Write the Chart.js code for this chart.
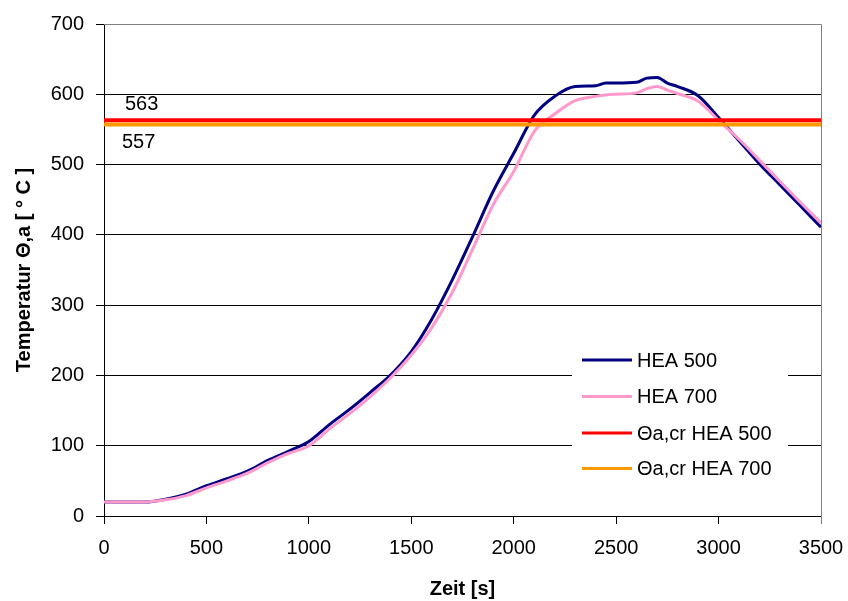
<!DOCTYPE html>
<html>
<head>
<meta charset="utf-8">
<script src="https://cdn.jsdelivr.net/npm/chart.js@4/dist/chart.umd.min.js"></script>
<style>
  body { margin: 0; background: #fff; }
  #chart { display: block; }
</style>
</head>
<body>
<canvas id="chart" width="848" height="601"></canvas>
<script>
// time axis (s) and steel temperatures
var zeit = [0, 100, 200, 300, 400, 500, 600, 700, 800, 900,
            1000, 1100, 1200, 1300, 1400, 1500, 1600, 1700, 1800, 1900,
            2000, 2100, 2200, 2300, 2400, 2450, 2500, 2600, 2650, 2700, 2750, 2800, 2900,
            3000, 3100, 3200, 3300, 3400, 3500];
var hea500 = [20, 20, 20, 24, 31, 43, 53, 64, 79, 92,
              106, 130, 152, 176, 201, 234, 280, 336, 398, 462,
              516, 570, 597, 611, 612, 616, 616, 617, 623, 624, 616, 611, 598,
              567, 534, 501, 471, 441, 411];
var hea700 = [20, 20, 20, 23, 29, 40, 50, 61, 76, 89,
              100, 124, 146, 170, 197, 229, 268, 318, 380, 443,
              490, 547, 572, 591, 597, 599, 600, 602, 608, 611, 606, 601, 590,
              563, 536, 506, 476, 446, 417];
// critical temperatures
var critLabels = ['Θa,cr HEA 500', 'Θa,cr HEA 700'];
var critValues = [563, 557];
var seriesLabels = ['HEA 500', 'HEA 700'];
var xTicks = [0, 3500];
var yTicks = [0, 700];

function toPoints(xs, ys) {
    return xs.map(function (x, i) { return { x: x, y: ys[i] }; });
}
function flatLine(v) {
    return [{ x: xTicks[0], y: v }, { x: xTicks[1], y: v }];
}

Chart.defaults.font.family = 'Arial, "Liberation Sans", sans-serif';
Chart.defaults.color = '#000';

// gray plot border, value labels for the critical lines and the boxed legend
var extras = {
    id: 'extras',
    beforeDatasetsDraw: function (chart) {
        var a = chart.chartArea, ctx = chart.ctx;
        ctx.save();
        ctx.strokeStyle = '#808080';
        ctx.lineWidth = 1;
        ctx.beginPath();
        ctx.moveTo(a.left, a.top + 0.5);
        ctx.lineTo(a.right + 0.5, a.top + 0.5);
        ctx.lineTo(a.right + 0.5, a.bottom + 8);
        ctx.stroke();
        ctx.restore();
    },
    afterDatasetsDraw: function (chart) {
        var ctx = chart.ctx, ys = chart.scales.y, xs = chart.scales.x;
        ctx.save();
        ctx.font = '20px Arial, "Liberation Sans", sans-serif';
        ctx.fillStyle = '#000';
        ctx.textBaseline = 'middle';
        ctx.textAlign = 'left';
        ctx.fillText(String(critValues[0]), xs.getPixelForValue(0) + 21, ys.getPixelForValue(critValues[0]) - 16);
        ctx.fillText(String(critValues[1]), xs.getPixelForValue(0) + 18, ys.getPixelForValue(critValues[1]) + 18);

        // legend
        var bx = 572, by = 342, bw = 216, bh = 146;
        ctx.fillStyle = '#fff';
        ctx.fillRect(bx, by, bw, bh);
        var rowY = [360, 396.5, 433, 468.5];
        chart.data.datasets.forEach(function (ds, i) {
            ctx.strokeStyle = ds.borderColor;
            ctx.lineWidth = 3;
            ctx.beginPath();
            ctx.moveTo(582, rowY[i]);
            ctx.lineTo(632, rowY[i]);
            ctx.stroke();
            ctx.fillStyle = '#000';
            ctx.fillText(ds.label, 637, rowY[i] + 1);
        });
        ctx.restore();
    }
};

var ctx = document.getElementById('chart').getContext('2d');
var chart = new Chart(ctx, {
    type: 'line',
    data: {
        datasets: [
            { label: seriesLabels[0], data: toPoints(zeit, hea500), borderColor: '#000080', borderWidth: 3, order: 3 },
            { label: seriesLabels[1], data: toPoints(zeit, hea700), borderColor: '#FF99CC', borderWidth: 3, order: 2 },
            { label: critLabels[0], data: flatLine(critValues[0]), borderColor: '#FF0000', borderWidth: 4, order: 1 },
            { label: critLabels[1], data: flatLine(critValues[1]), borderColor: '#FF9900', borderWidth: 4, order: 0 }
        ]
    },
    options: {
        responsive: false,
        animation: false,
        layout: { padding: { top: 22, right: 27, left: 0, bottom: 0 } },
        elements: { point: { radius: 0 }, line: { cubicInterpolationMode: 'monotone', fill: false } },
        plugins: { legend: { display: false }, tooltip: { enabled: false } },
        scales: {
            x: {
                type: 'linear',
                min: xTicks[0], max: xTicks[1],
                ticks: { stepSize: 500, font: { size: 20 }, padding: 12, maxRotation: 0,
                         callback: function (v) { return String(v); } },
                grid: { drawOnChartArea: false, drawTicks: true, tickLength: 8, color: '#000' },
                border: { color: '#000', width: 1 },
                title: { display: true, text: 'Zeit [s]', font: { size: 20, weight: 'bold' }, padding: { top: 0, bottom: 0 } },
                afterFit: function (s) { s.height = 85; s.paddingLeft = 0; s.paddingRight = 0; }
            },
            y: {
                min: yTicks[0], max: yTicks[1],
                ticks: { stepSize: 100, font: { size: 20 }, padding: 12 },
                grid: {
                    tickLength: 8,
                    color: function (c) { return c.tick && c.tick.value === 700 ? '#808080' : '#000'; },
                    tickColor: '#000'
                },
                border: { color: '#000', width: 1 },
                title: { display: true, text: 'Temperatur Θ,a [ ° C ]', font: { size: 20, weight: 'bold' }, padding: { top: 12, bottom: 0 } },
                afterFit: function (s) { s.width = 104; }
            }
        }
    },
    plugins: [extras]
});
</script>
</body>
</html>
